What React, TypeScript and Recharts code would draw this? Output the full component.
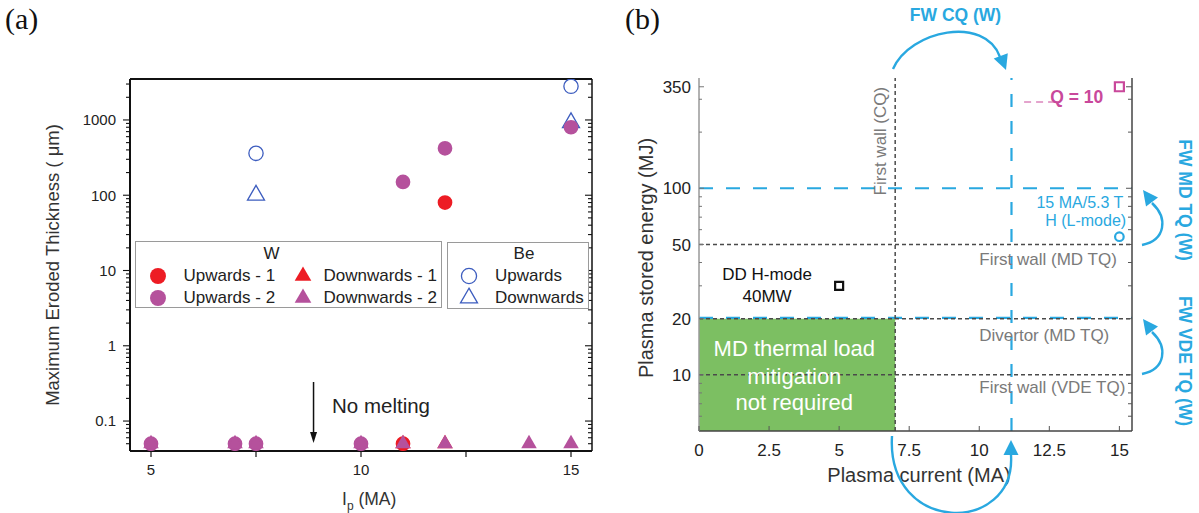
import React from 'react';
import {
  ScatterChart,
  Scatter,
  XAxis,
  YAxis,
  ReferenceLine,
  ReferenceArea,
  ReferenceDot,
  Symbols,
} from 'recharts';

const FONT = '"Liberation Sans", Arial, Helvetica, sans-serif';
const SERIF = '"Liberation Serif", "Times New Roman", serif';
const RED = '#ed1c24';
const PURPLE = '#b5519c';
const BE_BLUE = '#3d5dbf';
const BLUE = '#29a8e0';
const PINK = '#c9489b';
const GREEN = '#7cbf62';
const GRAY_TXT = '#7a7a7a';
const GRAY_LINE = '#4a4a4a';

// ---------------- Panel (a) data ----------------
const wUpwards1 = [
  { ip: 11, t: 0.05 },
  { ip: 12, t: 80 },
];
const wUpwards2 = [
  { ip: 5, t: 0.05 },
  { ip: 7, t: 0.05 },
  { ip: 7.5, t: 0.05 },
  { ip: 10, t: 0.05 },
  { ip: 11, t: 150 },
  { ip: 12, t: 420 },
  { ip: 15, t: 800 },
];
const wDownwards1 = [
  { ip: 11, t: 0.05 },
  { ip: 12, t: 0.05 },
];
const wDownwards2 = [
  { ip: 5, t: 0.05 },
  { ip: 7, t: 0.05 },
  { ip: 7.5, t: 0.05 },
  { ip: 10, t: 0.05 },
  { ip: 11, t: 0.05 },
  { ip: 12, t: 0.05 },
  { ip: 14, t: 0.05 },
  { ip: 15, t: 0.05 },
];
const beUpwards = [
  { ip: 7.5, t: 360 },
  { ip: 15, t: 2800 },
];
const beDownwards = [
  { ip: 7.5, t: 100 },
  { ip: 15, t: 920 },
];

const aXDomain = [4.5, 15.5];
const aYDomain = [0.04, 3500];
const aXTicks = [5, 7.5, 10, 12.5, 15];
const aXLabels = [5, 10, 15];
const aYLabels = [0.1, 1, 10, 100, 1000];
const aYMinor = [
  0.05, 0.06, 0.07, 0.08, 0.09,
  0.2, 0.3, 0.4, 0.5, 0.6, 0.7, 0.8, 0.9,
  2, 3, 4, 5, 6, 7, 8, 9,
  20, 30, 40, 50, 60, 70, 80, 90,
  200, 300, 400, 500, 600, 700, 800, 900,
  2000, 3000,
];
const noMeltingArrow = { ip: 8.87, from: 0.33, to: 0.051 };
const noMeltingText = { ip: 9.31, t: 0.16, text: 'No melting' };

// ---------------- Panel (b) data ----------------
const q10Point = [{ ip: 15, w: 350 }];
const lModePoint = [{ ip: 15, w: 55 }];
const ddHModePoint = [{ ip: 5, w: 30 }];

const bXDomain = [0, 15.45];
const bYDomain = [5, 390];
const bXTicks = [0, 2.5, 5, 7.5, 10, 12.5, 15];
const bYLabels = [10, 20, 50, 100, 350];
const bYMinor = [6, 7, 8, 9, 30, 40, 60, 70, 80, 90, 200, 300];
const grayLimitsW = [50, 20, 10];
const grayLimitIp = 7;
const blueLimitsW = [100, 20.2];
const blueLimitIp = 11.15;
const noMitigationIp = [0, 7];
const noMitigationW = [5, 20];
const q10Dash = { from: 11.6, to: 12.7, w: 290 };

const bLabels = [
  { ip: 6.45, w: 179, text: 'First wall (CQ)', anchor: 'middle', color: GRAY_TXT, size: 17, rotate: -90 },
  { ip: 10, w: 42, text: 'First wall (MD TQ)', anchor: 'start', color: GRAY_TXT, size: 17 },
  { ip: 10, w: 16.4, text: 'Divertor (MD TQ)', anchor: 'start', color: GRAY_TXT, size: 17 },
  { ip: 10, w: 8.55, text: 'First wall (VDE TQ)', anchor: 'start', color: GRAY_TXT, size: 17 },
  { ip: 15.14, w: 84, text: '15 MA/5.3 T', anchor: 'end', color: BLUE, size: 16 },
  { ip: 15.24, w: 67.5, text: 'H (L-mode)', anchor: 'end', color: BLUE, size: 16 },
  { ip: 2.43, w: 34.5, text: 'DD H-mode', anchor: 'middle', color: '#111', size: 17 },
  { ip: 2.43, w: 26.3, text: '40MW', anchor: 'middle', color: '#111', size: 17 },
  { ip: 3.4, w: 13.9, text: 'MD thermal load', anchor: 'middle', color: '#ffffff', size: 22 },
  { ip: 3.4, w: 9.88, text: 'mitigation', anchor: 'middle', color: '#ffffff', size: 22 },
  { ip: 3.4, w: 7.1, text: 'not required', anchor: 'middle', color: '#ffffff', size: 22 },
  { ip: 13.48, w: 308, text: 'Q = 10', anchor: 'middle', color: PINK, size: 17.5, weight: 'bold' },
];

// ---------------- helpers ----------------
type TickOpts = {
  orient: 'left' | 'right' | 'top' | 'bottom';
  labels: number[];
  major: number;
  minor: number;
  inward: boolean;
  color: string;
  width?: number;
  fontSize?: number;
  offset?: number;
  textColor?: string;
};

function makeTick(o: TickOpts) {
  return (props: any) => {
    const { x, y, payload } = props;
    const v = Number(payload.value);
    const isMajor = o.labels.some((l) => Math.abs(l - v) < 1e-9);
    const len = isMajor ? o.major : o.minor;
    const s = o.inward ? -1 : 1;
    let x2 = x;
    let y2 = y;
    if (o.orient === 'left') x2 = x - s * len;
    else if (o.orient === 'right') x2 = x + s * len;
    else if (o.orient === 'top') y2 = y - s * len;
    else y2 = y + s * len;
    let label: any = null;
    if (isMajor && o.fontSize) {
      if (o.orient === 'left') {
        label = (
          <text x={x - (o.offset || 0)} y={y} dy="0.36em" textAnchor="end" fontSize={o.fontSize}
            fontFamily={FONT} fill={o.textColor || '#222'}>{String(v)}</text>
        );
      } else {
        label = (
          <text x={x} y={y + (o.offset || 0)} textAnchor="middle" fontSize={o.fontSize}
            fontFamily={FONT} fill={o.textColor || '#222'}>{String(v)}</text>
        );
      }
    }
    return (
      <g>
        <line x1={x} y1={y} x2={x2} y2={y2} stroke={o.color} strokeWidth={o.width || 1} />
        {label}
      </g>
    );
  };
}

const symShape = (type: any, size: number, fill: string, stroke: string, sw: number) => (p: any) => (
  <Symbols cx={p.cx} cy={p.cy} type={type} size={size} fill={fill} stroke={stroke} strokeWidth={sw} />
);

const textShape = (a: any) => (p: any) => (
  <text
    x={p.cx}
    y={p.cy}
    dy="0.35em"
    textAnchor={a.anchor}
    fontSize={a.size}
    fontWeight={a.weight || 'normal'}
    fontFamily={FONT}
    fill={a.color}
    transform={a.rotate ? `rotate(${a.rotate} ${p.cx} ${p.cy})` : undefined}
  >
    {a.text}
  </text>
);

const arrowHeadShape = (p: any) => (
  <polygon points={`${p.cx},${p.cy} ${p.cx - 3.5},${p.cy - 11} ${p.cx + 3.5},${p.cy - 11}`} fill="#111" />
);

function headPoints(tx: number, ty: number, dx: number, dy: number, len = 15, half = 7.5) {
  const n = Math.hypot(dx, dy);
  const ux = dx / n;
  const uy = dy / n;
  const bx = tx - ux * len;
  const by = ty - uy * len;
  return `${tx},${ty} ${bx - uy * half},${by + ux * half} ${bx + uy * half},${by - ux * half}`;
}

// ---------------- legend (panel a) ----------------
function LegendMarker({ x, y, type, size, fill, stroke, sw }: any) {
  return (
    <svg width={24} height={24} style={{ position: 'absolute', left: x - 12, top: y - 12 }}>
      <Symbols cx={12} cy={12} type={type} size={size} fill={fill} stroke={stroke} strokeWidth={sw} />
    </svg>
  );
}

function LegendText({ x, y, text, center }: any) {
  return (
    <span
      style={{
        position: 'absolute',
        left: x,
        top: y,
        transform: center ? 'translate(-50%,-50%)' : 'translate(0,-50%)',
        whiteSpace: 'nowrap',
        lineHeight: '20px',
      }}
    >
      {text}
    </span>
  );
}

function PanelALegend() {
  const box: React.CSSProperties = {
    position: 'absolute',
    border: '1px solid #9a9a9a',
    boxSizing: 'border-box',
    background: '#fff',
    fontFamily: FONT,
    fontSize: 17,
    color: '#222',
  };
  return (
    <>
      <div style={{ ...box, left: 135, top: 241, width: 307, height: 67 }}>
        <LegendText x={135.5} y={12} text="W" center />
        <LegendMarker x={22} y={34} type="circle" size={200} fill={RED} stroke="none" sw={0} />
        <LegendText x={47.5} y={34} text="Upwards - 1" />
        <LegendMarker x={22} y={55.5} type="circle" size={200} fill={PURPLE} stroke="none" sw={0} />
        <LegendText x={47.5} y={55.5} text="Upwards - 2" />
        <LegendMarker x={167} y={34} type="triangle" size={120} fill={RED} stroke="none" sw={0} />
        <LegendText x={187.5} y={34} text="Downwards - 1" />
        <LegendMarker x={167} y={55.5} type="triangle" size={120} fill={PURPLE} stroke="none" sw={0} />
        <LegendText x={187.5} y={55.5} text="Downwards - 2" />
      </div>
      <div style={{ ...box, left: 447, top: 242, width: 142, height: 67 }}>
        <LegendText x={76} y={11} text="Be" center />
        <LegendMarker x={21} y={33} type="circle" size={180} fill="none" stroke={BE_BLUE} sw={1.3} />
        <LegendText x={47} y={33} text="Upwards" />
        <LegendMarker x={21} y={55} type="triangle" size={125} fill="none" stroke={BE_BLUE} sw={1.3} />
        <LegendText x={47} y={55} text="Downwards" />
      </div>
    </>
  );
}

// ---------------- panel (a) ----------------
function PanelA() {
  const yTicks = [...aYLabels, ...aYMinor].sort((a, b) => a - b);
  return (
    <div style={{ position: 'absolute', left: 0, top: 0 }}>
      <ScatterChart width={600} height={513} margin={{ top: 78, right: 7, bottom: 32, left: 70 }}>
        <XAxis
          xAxisId={0}
          type="number"
          dataKey="ip"
          domain={aXDomain}
          allowDataOverflow
          ticks={aXTicks}
          interval={0}
          height={30}
          tickSize={0}
          tickMargin={0}
          tickLine={false}
          axisLine={{ stroke: '#111', strokeWidth: 2 }}
          tick={makeTick({ orient: 'bottom', labels: aXLabels, major: 6, minor: 6, inward: false, color: '#111', width: 1.2, fontSize: 15, offset: 24 })}
        />
        <XAxis
          xAxisId="top"
          orientation="top"
          type="number"
          domain={aXDomain}
          allowDataOverflow
          ticks={aXTicks}
          interval={0}
          height={1}
          tickSize={0}
          tickMargin={0}
          tickLine={false}
          axisLine={{ stroke: '#111', strokeWidth: 2 }}
          tick={makeTick({ orient: 'top', labels: aXTicks, major: 7, minor: 7, inward: true, color: '#111', width: 1.2 })}
        />
        <YAxis
          yAxisId={0}
          type="number"
          dataKey="t"
          scale="log"
          domain={aYDomain}
          allowDataOverflow
          ticks={yTicks}
          interval={0}
          width={60}
          tickSize={0}
          tickMargin={0}
          tickLine={false}
          axisLine={{ stroke: '#111', strokeWidth: 2 }}
          tick={makeTick({ orient: 'left', labels: aYLabels, major: 7, minor: 4, inward: false, color: '#111', width: 1.1, fontSize: 15, offset: 14 })}
        />
        <YAxis
          yAxisId="right"
          orientation="right"
          type="number"
          scale="log"
          domain={aYDomain}
          allowDataOverflow
          ticks={yTicks}
          interval={0}
          width={1}
          tickSize={0}
          tickMargin={0}
          tickLine={false}
          axisLine={{ stroke: '#111', strokeWidth: 1.5 }}
          tick={makeTick({ orient: 'right', labels: aYLabels, major: 7, minor: 4, inward: true, color: '#111', width: 1.1 })}
        />
        <ReferenceLine
          segment={[
            { x: noMeltingArrow.ip, y: noMeltingArrow.from },
            { x: noMeltingArrow.ip, y: noMeltingArrow.to * 1.25 },
          ]}
          stroke="#111"
          strokeWidth={1.5}
        />
        <ReferenceDot x={noMeltingArrow.ip} y={noMeltingArrow.to} shape={arrowHeadShape} />
        <ReferenceDot x={noMeltingText.ip} y={noMeltingText.t}
          shape={textShape({ text: noMeltingText.text, anchor: 'start', size: 20.5, color: '#222' })} />
        <Scatter name="Be Upwards" data={beUpwards} isAnimationActive={false}
          shape={symShape('circle', 160, '#fff', BE_BLUE, 1.3)} />
        <Scatter name="Be Downwards" data={beDownwards} isAnimationActive={false}
          shape={symShape('triangle', 125, '#fff', BE_BLUE, 1.3)} />
        <Scatter name="Upwards - 1" data={wUpwards1} isAnimationActive={false}
          shape={symShape('circle', 170, RED, 'none', 0)} />
        <Scatter name="Upwards - 2" data={wUpwards2} isAnimationActive={false}
          shape={symShape('circle', 170, PURPLE, 'none', 0)} />
        <Scatter name="Downwards - 1" data={wDownwards1} isAnimationActive={false}
          shape={symShape('triangle', 105, RED, 'none', 0)} />
        <Scatter name="Downwards - 2" data={wDownwards2} isAnimationActive={false}
          shape={symShape('triangle', 105, PURPLE, 'none', 0)} />
      </ScatterChart>
      <PanelALegend />
    </div>
  );
}

// ---------------- panel (b) ----------------
function PanelB() {
  const yTicks = [...bYLabels, ...bYMinor].sort((a, b) => a - b);
  return (
    <div style={{ position: 'absolute', left: 600, top: 0 }}>
      <ScatterChart width={599} height={513} margin={{ top: 77, right: 66, bottom: 52, left: 49 }}>
        <XAxis
          xAxisId={0}
          type="number"
          dataKey="ip"
          domain={bXDomain}
          allowDataOverflow
          ticks={bXTicks}
          interval={0}
          height={30}
          tickSize={0}
          tickMargin={0}
          tickLine={false}
          axisLine={{ stroke: '#444', strokeWidth: 1.5 }}
          tick={makeTick({ orient: 'bottom', labels: bXTicks, major: 5, minor: 5, inward: true, color: '#555', fontSize: 17, offset: 25 })}
        />
        <XAxis
          xAxisId="top"
          orientation="top"
          type="number"
          domain={bXDomain}
          allowDataOverflow
          ticks={bXTicks}
          interval={0}
          height={1}
          tickSize={0}
          tickMargin={0}
          tickLine={false}
          axisLine={false}
          tick={makeTick({ orient: 'top', labels: bXTicks, major: 5, minor: 5, inward: true, color: '#777' })}
        />
        <YAxis
          yAxisId={0}
          type="number"
          dataKey="w"
          scale="log"
          domain={bYDomain}
          allowDataOverflow
          ticks={yTicks}
          interval={0}
          width={50}
          tickSize={0}
          tickMargin={0}
          tickLine={false}
          axisLine={{ stroke: '#999', strokeWidth: 1.5 }}
          tick={makeTick({ orient: 'left', labels: bYLabels, major: 5, minor: 3, inward: true, color: '#777', fontSize: 17, offset: 8 })}
        />
        <YAxis
          yAxisId="right"
          orientation="right"
          type="number"
          scale="log"
          domain={bYDomain}
          allowDataOverflow
          ticks={yTicks}
          interval={0}
          width={1}
          tickSize={0}
          tickMargin={0}
          tickLine={false}
          axisLine={{ stroke: '#444', strokeWidth: 1.5 }}
          tick={makeTick({ orient: 'right', labels: bYLabels, major: 6, minor: 4, inward: true, color: '#555' })}
        />
        <ReferenceArea x1={noMitigationIp[0]} x2={noMitigationIp[1]} y1={noMitigationW[0]} y2={noMitigationW[1]}
          fill={GREEN} fillOpacity={1} stroke="none" />
        {blueLimitsW.map((w) => (
          <ReferenceLine key={'bw' + w} y={w} stroke={BLUE} strokeWidth={2.2} strokeDasharray="14 13" />
        ))}
        <ReferenceLine x={blueLimitIp} stroke={BLUE} strokeWidth={2.2} strokeDasharray="13 14" />
        {grayLimitsW.map((w) => (
          <ReferenceLine key={'gw' + w} y={w} stroke={GRAY_LINE} strokeWidth={1.5} strokeDasharray="4 3" />
        ))}
        <ReferenceLine x={grayLimitIp} stroke={GRAY_LINE} strokeWidth={1.5} strokeDasharray="4 3" />
        <ReferenceLine
          segment={[
            { x: q10Dash.from, y: q10Dash.w },
            { x: q10Dash.to, y: q10Dash.w },
          ]}
          stroke={PINK}
          strokeWidth={1}
          strokeDasharray="7 5"
        />
        {bLabels.map((a, i) => (
          <ReferenceDot key={'lab' + i} x={a.ip} y={a.w} shape={textShape(a)} />
        ))}
        <Scatter name="Q = 10" data={q10Point} isAnimationActive={false}
          shape={symShape('square', 81, 'none', PINK, 2.2)} />
        <Scatter name="15 MA/5.3 T H (L-mode)" data={lModePoint} isAnimationActive={false}
          shape={symShape('circle', 58, 'none', BLUE, 2.2)} />
        <Scatter name="DD H-mode 40MW" data={ddHModePoint} isAnimationActive={false}
          shape={symShape('square', 64, 'none', '#111', 2.2)} />
      </ScatterChart>
    </div>
  );
}

// ---------------- overlay (panel letters, titles, arrows) ----------------
function Overlay() {
  const arrow = { stroke: BLUE, strokeWidth: 2.4, fill: 'none' };
  return (
    <svg width={1199} height={513} style={{ position: 'absolute', left: 0, top: 0, pointerEvents: 'none' }}>
      <text x={5} y={29} fontFamily={SERIF} fontSize={30} fill="#111">(a)</text>
      <text x={625} y={29} fontFamily={SERIF} fontSize={30} fill="#111">(b)</text>

      <text transform="translate(53,265) rotate(-90)" textAnchor="middle" dy="0.35em"
        fontFamily={FONT} fontSize={18.5} fill="#333">Maximum Eroded Thickness ( μm)</text>
      <text x={342} y={505} fontFamily={FONT} fontSize={17.5} fill="#333">
        I<tspan fontSize={12} dy={5}>p</tspan><tspan dy={-5}> (MA)</tspan>
      </text>

      <text transform="translate(646,258) rotate(-90)" textAnchor="middle" dy="0.35em"
        fontFamily={FONT} fontSize={20} fill="#333">Plasma stored energy (MJ)</text>
      <text x={919} y={482} textAnchor="middle" fontFamily={FONT} fontSize={20} fill="#333">Plasma current (MA)</text>

      <text x={955.5} y={21} textAnchor="middle" fontFamily={FONT} fontWeight="bold" fontSize={17.5} fill={BLUE}>FW CQ (W)</text>
      <text transform="translate(1185,200) rotate(90)" textAnchor="middle" dy="0.35em"
        fontFamily={FONT} fontWeight="bold" fontSize={17.5} fill={BLUE}>FW MD TQ (W)</text>
      <text transform="translate(1185,361) rotate(90)" textAnchor="middle" dy="0.35em"
        fontFamily={FONT} fontWeight="bold" fontSize={17.5} fill={BLUE}>FW VDE TQ (W)</text>

      {/* top arc: FW CQ */}
      <path d="M893,69 C910,30 985,15 1000,57" {...arrow} />
      <polygon points={headPoints(1006, 70, 16, 43)} fill={BLUE} />
      {/* right arcs */}
      <path d="M1142,245 C1166,240 1168,218 1152,203" {...arrow} />
      <polygon points={headPoints(1143, 190, -0.6, -0.8)} fill={BLUE} />
      <path d="M1142,374 C1166,369 1168,347 1152,332" {...arrow} />
      <polygon points={headPoints(1143, 319, -0.6, -0.8)} fill={BLUE} />
      {/* bottom arc */}
      <path d="M892,436 C886,535 1016,535 1011,455" {...arrow} />
      <polygon points={headPoints(1011, 440, 0, -1)} fill={BLUE} />
    </svg>
  );
}

export default function App() {
  return (
    <div style={{ position: 'absolute', left: 0, top: 0, width: 1199, height: 513, background: '#fff', fontFamily: FONT }}>
      <PanelA />
      <PanelB />
      <Overlay />
    </div>
  );
}
